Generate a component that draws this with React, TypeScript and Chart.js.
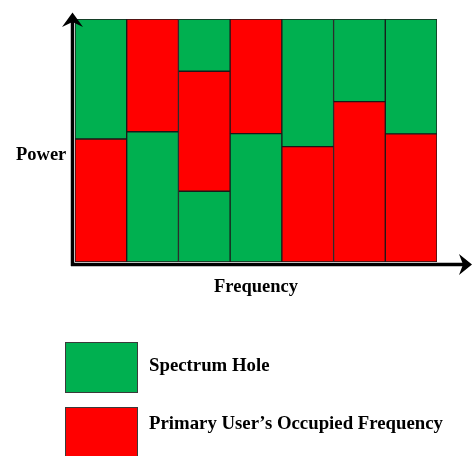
import React, { useEffect, useRef } from "react";
import { Chart, registerables } from "chart.js";

Chart.register(...registerables);

// Frequency bins (7 channels)
const categories = ["f1", "f2", "f3", "f4", "f5", "f6", "f7"];

// Stacked power segments per channel, bottom → top (percent of full height)
const bottomValues = [50.6, 53.6, 29.1, 52.8, 47.5, 66.0, 52.7];
const middleValues = [49.4, 46.4, 49.4, 47.2, 52.5, 34.0, 47.3];
const topValues: (number | null)[] = [null, null, 21.5, null, null, null, null];

// Segment kind: H = spectrum hole, O = primary user's occupied frequency
const bottomKinds = ["O", "H", "H", "H", "O", "O", "O"];
const middleKinds = ["H", "O", "O", "O", "H", "H", "H"];
const topKinds = ["H", "H", "H", "H", "H", "H", "H"];

const legendLabels = ["Spectrum Hole", "Primary User\u2019s Occupied Frequency"];
const axisLabels = { x: "Frequency", y: "Power" };

const GREEN = "#00B050";
const RED = "#FF0000";
const colorOf = (k: string) => (k === "H" ? GREEN : RED);
const FONT = "bold 18.5px 'Liberation Serif', 'Times New Roman', serif";
const LEGEND_FONT = "bold 18.8px 'Liberation Serif', 'Times New Roman', serif";

const axesPlugin = {
  id: "axesArrows",
  afterDraw(chart: any) {
    const ctx = chart.ctx;
    const a = chart.chartArea;
    ctx.save();
    ctx.fillStyle = "#000";
    ctx.strokeStyle = "#000";
    ctx.lineWidth = 3.5;
    const vx = a.left - 2.5;
    const hy = a.bottom + 2.5;
    // vertical axis
    ctx.beginPath();
    ctx.moveTo(vx, hy + 1.5);
    ctx.lineTo(vx, a.top - 2);
    ctx.stroke();
    ctx.beginPath();
    ctx.moveTo(vx, a.top - 6.5);
    ctx.lineTo(vx - 10.5, a.top + 8);
    ctx.lineTo(vx, a.top + 3);
    ctx.lineTo(vx + 10.5, a.top + 8);
    ctx.closePath();
    ctx.fill();
    // horizontal axis
    const endX = chart.width - 1;
    ctx.beginPath();
    ctx.moveTo(vx - 1.5, hy);
    ctx.lineTo(endX - 5, hy);
    ctx.stroke();
    ctx.beginPath();
    ctx.moveTo(endX, hy);
    ctx.lineTo(endX - 13, hy - 10.5);
    ctx.lineTo(endX - 9, hy);
    ctx.lineTo(endX - 13, hy + 10.5);
    ctx.closePath();
    ctx.fill();
    // axis labels
    ctx.font = FONT;
    ctx.textBaseline = "alphabetic";
    ctx.textAlign = "left";
    ctx.fillText(axisLabels.y, 16, 160);
    ctx.textAlign = "center";
    ctx.fillText(axisLabels.x, 256, 292);
    ctx.restore();
  },
};

export default function App() {
  const canvasRef = useRef<HTMLCanvasElement>(null);

  useEffect(() => {
    if (!canvasRef.current) return;
    const common = {
      borderColor: "#1a1a1a",
      borderWidth: 1,
      borderSkipped: false as const,
      barPercentage: 1,
      categoryPercentage: 1,
    };
    const chart = new Chart(canvasRef.current, {
      type: "bar",
      data: {
        labels: categories,
        datasets: [
          { label: "bottom", data: bottomValues, backgroundColor: bottomKinds.map(colorOf), ...common },
          { label: "middle", data: middleValues, backgroundColor: middleKinds.map(colorOf), ...common },
          { label: "top", data: topValues, backgroundColor: topKinds.map(colorOf), ...common },
        ],
      },
      options: {
        animation: false,
        responsive: false,
        maintainAspectRatio: false,
        layout: { padding: { left: 75, top: 19, right: 36, bottom: 194 } },
        plugins: { legend: { display: false }, tooltip: { enabled: false } },
        scales: {
          x: { stacked: true, display: false },
          y: { stacked: true, display: false, min: 0, max: 100 },
        },
      },
      plugins: [axesPlugin],
    });
    return () => chart.destroy();
  }, []);

  const legendItems = [
    { label: legendLabels[0], color: GREEN, top: 342, textY: 366 },
    { label: legendLabels[1], color: RED, top: 407, textY: 424 },
  ];

  return (
    <div
      style={{
        position: "fixed",
        left: 0,
        top: 0,
        width: 473,
        height: 456,
        overflow: "hidden",
        background: "#fff",
      }}
    >
      <canvas ref={canvasRef} width={473} height={456} style={{ position: "absolute", left: 0, top: 0 }} />
      {legendItems.map((it) => (
        <React.Fragment key={it.label}>
          <div
            style={{
              position: "absolute",
              left: 65,
              top: it.top,
              width: 71,
              height: 49,
              background: it.color,
              border: "1px solid #3a3a3a",
            }}
          />
          <div
            style={{
              position: "absolute",
              left: 149,
              top: it.textY - 12,
              height: 24,
              lineHeight: "24px",
              font: LEGEND_FONT,
              color: "#000",
              whiteSpace: "nowrap",
            }}
          >
            {it.label}
          </div>
        </React.Fragment>
      ))}
    </div>
  );
}
